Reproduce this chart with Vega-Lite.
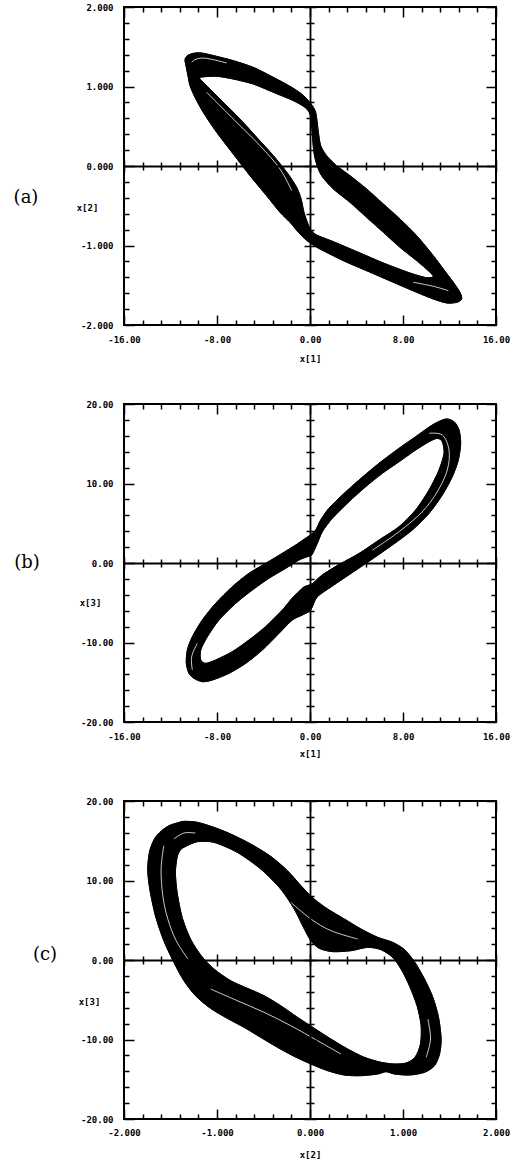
{
"$schema": "https://vega.github.io/schema/vega-lite/v6.json",
"background": "white",
"padding": {"left": 12, "top": 2, "right": 4, "bottom": 0},
"spacing": 79,
"bounds": "flush",
"config": {
  "locale": {"number": {"decimal": ".", "thousands": ",", "grouping": [3], "currency": ["$", ""], "minus": "-"}},
  "view": {"stroke": "black", "strokeWidth": 2},
  "axis": {"grid": false, "domainColor": "black", "domainWidth": 1.8, "tickColor": "black", "tickWidth": 1.5, "labelColor": "black", "titleColor": "black", "labelFont": "DejaVu Sans Mono", "labelFontWeight": "bold", "labelFontSize": 9, "titleFont": "DejaVu Sans Mono", "titleFontWeight": "bold", "titleFontSize": 9, "labelFlush": false, "labelOverlap": false}
},
"datasets": {
"a": [
{"s":"o","x1":-10.75,"x2":1.333},{"s":"o","x1":-10.55,"x2":1.388},{"s":"o","x1":-10.04,"x2":1.417},{"s":"o","x1":-9.32,"x2":1.421},{"s":"o","x1":-8.03,"x2":1.379},{"s":"o","x1":-6.6,"x2":1.325},{"s":"o","x1":-4.88,"x2":1.241},{"s":"o","x1":-3.15,"x2":1.115},{"s":"o","x1":-1.72,"x2":1.002},{"s":"o","x1":-0.72,"x2":0.906},{"s":"o","x1":-0.14,"x2":0.822},{"s":"o","x1":0.29,"x2":0.738},{"s":"o","x1":0.52,"x2":0.654},{"s":"o","x1":0.72,"x2":0.424},{"s":"o","x1":0.92,"x2":0.256},{"s":"o","x1":1.43,"x2":0.13},{"s":"o","x1":2.29,"x2":0.004},{"s":"o","x1":3.44,"x2":-0.122},{"s":"o","x1":4.87,"x2":-0.289},{"s":"o","x1":6.31,"x2":-0.478},{"s":"o","x1":7.74,"x2":-0.667},{"s":"o","x1":9.18,"x2":-0.877},{"s":"o","x1":10.61,"x2":-1.128},{"s":"o","x1":11.47,"x2":-1.296},{"s":"o","x1":12.33,"x2":-1.463},{"s":"o","x1":12.9,"x2":-1.589},{"s":"o","x1":13.05,"x2":-1.673},{"s":"o","x1":12.62,"x2":-1.715},{"s":"o","x1":11.76,"x2":-1.723},{"s":"o","x1":10.61,"x2":-1.673},{"s":"o","x1":9.18,"x2":-1.589},{"s":"o","x1":7.17,"x2":-1.463},{"s":"o","x1":4.87,"x2":-1.317},{"s":"o","x1":2.87,"x2":-1.191},{"s":"o","x1":0.86,"x2":-1.044},{"s":"o","x1":0.14,"x2":-0.981},{"s":"o","x1":-0.43,"x2":-0.918},{"s":"o","x1":-1.0,"x2":-0.834},{"s":"o","x1":-1.72,"x2":-0.708},{"s":"o","x1":-2.58,"x2":-0.582},{"s":"o","x1":-3.73,"x2":-0.374},{"s":"o","x1":-5.16,"x2":-0.122},{"s":"o","x1":-6.6,"x2":0.151},{"s":"o","x1":-8.03,"x2":0.424},{"s":"o","x1":-9.18,"x2":0.675},{"s":"o","x1":-9.89,"x2":0.864},{"s":"o","x1":-10.32,"x2":1.01},{"s":"o","x1":-10.47,"x2":1.115},{"s":"o","x1":-10.61,"x2":1.22},
{"s":"i","x1":-9.46,"x2":1.115},{"s":"i","x1":-8.03,"x2":1.128},{"s":"i","x1":-6.6,"x2":1.094},{"s":"i","x1":-4.88,"x2":1.031},{"s":"i","x1":-3.15,"x2":0.927},{"s":"i","x1":-1.43,"x2":0.822},{"s":"i","x1":-0.43,"x2":0.738},{"s":"i","x1":0.0,"x2":0.654},{"s":"i","x1":0.14,"x2":0.507},{"s":"i","x1":0.23,"x2":0.34},{"s":"i","x1":0.34,"x2":0.172},{"s":"i","x1":0.57,"x2":0.025},{"s":"i","x1":1.0,"x2":-0.122},{"s":"i","x1":2.01,"x2":-0.289},{"s":"i","x1":3.44,"x2":-0.457},{"s":"i","x1":4.87,"x2":-0.646},{"s":"i","x1":6.31,"x2":-0.834},{"s":"i","x1":7.74,"x2":-1.023},{"s":"i","x1":9.18,"x2":-1.191},{"s":"i","x1":10.18,"x2":-1.317},{"s":"i","x1":10.61,"x2":-1.388},{"s":"i","x1":10.04,"x2":-1.405},{"s":"i","x1":8.6,"x2":-1.346},{"s":"i","x1":6.31,"x2":-1.22},{"s":"i","x1":4.3,"x2":-1.094},{"s":"i","x1":2.01,"x2":-0.952},{"s":"i","x1":0.57,"x2":-0.868},{"s":"i","x1":0.06,"x2":-0.801},{"s":"i","x1":-0.23,"x2":-0.708},{"s":"i","x1":-0.52,"x2":-0.582},{"s":"i","x1":-0.77,"x2":-0.415},{"s":"i","x1":-1.15,"x2":-0.268},{"s":"i","x1":-1.95,"x2":-0.088},{"s":"i","x1":-3.15,"x2":0.13},{"s":"i","x1":-4.59,"x2":0.361},{"s":"i","x1":-6.02,"x2":0.591},{"s":"i","x1":-7.46,"x2":0.801},{"s":"i","x1":-8.6,"x2":0.969},{"s":"i","x1":-9.23,"x2":1.06},
{"s":"s1","x1":-8.89,"x2":0.927},{"s":"s1","x1":-6.6,"x2":0.591},{"s":"s1","x1":-4.3,"x2":0.256},{"s":"s1","x1":-2.58,"x2":-0.038},{"s":"s1","x1":-1.58,"x2":-0.31},
{"s":"s2","x1":-10.18,"x2":1.304},{"s":"s2","x1":-9.75,"x2":1.346},{"s":"s2","x1":-8.89,"x2":1.354},{"s":"s2","x1":-7.17,"x2":1.296},
{"s":"s3","x1":8.89,"x2":-1.463},{"s":"s3","x1":10.61,"x2":-1.513},{"s":"s3","x1":11.9,"x2":-1.568}
],
"b": [
{"s":"o","x1":-0.09,"x3":3.4},{"s":"o","x1":0.49,"x3":4.15},{"s":"o","x1":0.92,"x3":5.41},{"s":"o","x1":1.63,"x3":6.88},{"s":"o","x1":2.78,"x3":8.55},{"s":"o","x1":4.22,"x3":10.44},{"s":"o","x1":5.94,"x3":12.54},{"s":"o","x1":7.66,"x3":14.43},{"s":"o","x1":9.09,"x3":15.89},{"s":"o","x1":10.52,"x3":17.36},{"s":"o","x1":11.67,"x3":18.11},{"s":"o","x1":12.39,"x3":17.77},{"s":"o","x1":12.82,"x3":16.73},{"s":"o","x1":12.96,"x3":15.06},{"s":"o","x1":12.76,"x3":12.96},{"s":"o","x1":12.24,"x3":10.86},{"s":"o","x1":11.38,"x3":8.55},{"s":"o","x1":10.24,"x3":6.25},{"s":"o","x1":8.8,"x3":4.15},{"s":"o","x1":7.08,"x3":2.26},{"s":"o","x1":5.36,"x3":0.5},{"s":"o","x1":3.64,"x3":-1.2},{"s":"o","x1":1.92,"x3":-2.9},{"s":"o","x1":0.6,"x3":-4.3},{"s":"o","x1":0.06,"x3":-5.91},{"s":"o","x1":-0.66,"x3":-6.54},{"s":"o","x1":-1.52,"x3":-7.17},{"s":"o","x1":-2.67,"x3":-8.85},{"s":"o","x1":-4.1,"x3":-10.94},{"s":"o","x1":-5.53,"x3":-12.62},{"s":"o","x1":-6.97,"x3":-13.88},{"s":"o","x1":-8.4,"x3":-14.72},{"s":"o","x1":-9.26,"x3":-14.93},{"s":"o","x1":-9.98,"x3":-14.51},{"s":"o","x1":-10.41,"x3":-13.88},{"s":"o","x1":-10.64,"x3":-12.62},{"s":"o","x1":-10.55,"x3":-10.94},{"s":"o","x1":-10.12,"x3":-9.27},{"s":"o","x1":-9.26,"x3":-7.17},{"s":"o","x1":-8.11,"x3":-5.07},{"s":"o","x1":-6.68,"x3":-2.98},{"s":"o","x1":-5.25,"x3":-1.3},{"s":"o","x1":-3.81,"x3":-0.04},{"s":"o","x1":-2.38,"x3":1.22},{"s":"o","x1":-1.23,"x3":2.26},{"s":"o","x1":-0.52,"x3":2.98},
{"s":"i","x1":0.15,"x3":1.01},{"s":"i","x1":0.63,"x3":2.48},{"s":"i","x1":1.06,"x3":3.94},{"s":"i","x1":1.92,"x3":5.62},{"s":"i","x1":3.35,"x3":7.71},{"s":"i","x1":4.79,"x3":9.6},{"s":"i","x1":6.22,"x3":11.28},{"s":"i","x1":7.66,"x3":12.74},{"s":"i","x1":9.09,"x3":14.21},{"s":"i","x1":10.24,"x3":15.26},{"s":"i","x1":10.95,"x3":15.68},{"s":"i","x1":11.38,"x3":15.26},{"s":"i","x1":11.53,"x3":13.8},{"s":"i","x1":11.1,"x3":11.7},{"s":"i","x1":10.24,"x3":9.18},{"s":"i","x1":9.09,"x3":6.67},{"s":"i","x1":7.66,"x3":4.57},{"s":"i","x1":5.94,"x3":2.89},{"s":"i","x1":4.22,"x3":1.2},{"s":"i","x1":2.49,"x3":-0.2},{"s":"i","x1":1.06,"x3":-1.5},{"s":"i","x1":0.2,"x3":-2.6},{"s":"i","x1":-0.5,"x3":-3.0},{"s":"i","x1":-0.95,"x3":-3.6},{"s":"i","x1":-1.52,"x3":-4.4},{"s":"i","x1":-2.38,"x3":-5.91},{"s":"i","x1":-3.81,"x3":-7.99},{"s":"i","x1":-5.25,"x3":-9.69},{"s":"i","x1":-6.68,"x3":-11.15},{"s":"i","x1":-8.11,"x3":-12.2},{"s":"i","x1":-8.97,"x3":-12.62},{"s":"i","x1":-9.4,"x3":-12.2},{"s":"i","x1":-9.4,"x3":-10.94},{"s":"i","x1":-8.83,"x3":-9.27},{"s":"i","x1":-7.83,"x3":-7.17},{"s":"i","x1":-6.39,"x3":-5.07},{"s":"i","x1":-4.96,"x3":-3.4},{"s":"i","x1":-3.53,"x3":-1.92},{"s":"i","x1":-2.09,"x3":-0.67},{"s":"i","x1":-0.95,"x3":0.38},{"s":"i","x1":-0.23,"x3":0.79},
{"s":"s1","x1":10.24,"x3":16.31},{"s":"s1","x1":11.38,"x3":16.1},{"s":"s1","x1":11.96,"x3":14.21},{"s":"s1","x1":11.81,"x3":11.7},{"s":"s1","x1":10.95,"x3":8.97},{"s":"s1","x1":9.66,"x3":6.45},{"s":"s1","x1":7.66,"x3":3.94},{"s":"s1","x1":5.36,"x3":1.6},
{"s":"s2","x1":-10.12,"x3":-13.46},{"s":"s2","x1":-10.18,"x3":-11.79},{"s":"s2","x1":-9.69,"x3":-10.1}
],
"c": [
{"s":"o","x2":-1.429,"x3":17.23},{"s":"o","x2":-1.356,"x3":17.44},{"s":"o","x2":-1.213,"x3":17.32},{"s":"o","x2":-1.033,"x3":16.69},{"s":"o","x2":-0.854,"x3":15.85},{"s":"o","x2":-0.638,"x3":14.59},{"s":"o","x2":-0.423,"x3":13.04},{"s":"o","x2":-0.243,"x3":11.24},{"s":"o","x2":-0.081,"x3":9.14},{"s":"o","x2":0.045,"x3":7.67},{"s":"o","x2":0.189,"x3":6.42},{"s":"o","x2":0.369,"x3":5.16},{"s":"o","x2":0.548,"x3":3.9},{"s":"o","x2":0.728,"x3":2.85},{"s":"o","x2":0.889,"x3":2.22},{"s":"o","x2":1.016,"x3":1.3},{"s":"o","x2":1.123,"x3":-0.21},{"s":"o","x2":1.231,"x3":-2.39},{"s":"o","x2":1.321,"x3":-4.7},{"s":"o","x2":1.382,"x3":-7.21},{"s":"o","x2":1.41,"x3":-9.94},{"s":"o","x2":1.393,"x3":-11.82},{"s":"o","x2":1.339,"x3":-13.29},{"s":"o","x2":1.231,"x3":-14.13},{"s":"o","x2":1.069,"x3":-14.47},{"s":"o","x2":0.908,"x3":-14.34},{"s":"o","x2":0.817,"x3":-14.05},{"s":"o","x2":0.728,"x3":-14.34},{"s":"o","x2":0.548,"x3":-14.55},{"s":"o","x2":0.369,"x3":-14.47},{"s":"o","x2":0.189,"x3":-13.92},{"s":"o","x2":0.009,"x3":-13.08},{"s":"o","x2":-0.17,"x3":-12.12},{"s":"o","x2":-0.35,"x3":-10.98},{"s":"o","x2":-0.53,"x3":-9.73},{"s":"o","x2":-0.709,"x3":-8.47},{"s":"o","x2":-0.889,"x3":-7.34},{"s":"o","x2":-1.069,"x3":-6.08},{"s":"o","x2":-1.231,"x3":-4.49},{"s":"o","x2":-1.356,"x3":-2.6},{"s":"o","x2":-1.464,"x3":-0.29},{"s":"o","x2":-1.572,"x3":2.43},{"s":"o","x2":-1.662,"x3":5.57},{"s":"o","x2":-1.723,"x3":8.93},{"s":"o","x2":-1.745,"x3":11.45},{"s":"o","x2":-1.723,"x3":13.75},{"s":"o","x2":-1.662,"x3":15.43},{"s":"o","x2":-1.572,"x3":16.48},{"s":"o","x2":-1.5,"x3":16.98},
{"s":"i","x2":-1.356,"x3":14.17},{"s":"i","x2":-1.213,"x3":14.88},{"s":"i","x2":-1.033,"x3":14.8},{"s":"i","x2":-0.782,"x3":13.54},{"s":"i","x2":-0.53,"x3":11.45},{"s":"i","x2":-0.315,"x3":8.93},{"s":"i","x2":-0.17,"x3":6.42},{"s":"i","x2":-0.07,"x3":4.11},{"s":"i","x2":0.009,"x3":2.43},{"s":"i","x2":0.099,"x3":1.47},{"s":"i","x2":0.243,"x3":1.05},{"s":"i","x2":0.44,"x3":1.17},{"s":"i","x2":0.62,"x3":1.59},{"s":"i","x2":0.763,"x3":1.3},{"s":"i","x2":0.889,"x3":0.33},{"s":"i","x2":0.979,"x3":-1.13},{"s":"i","x2":1.069,"x3":-3.23},{"s":"i","x2":1.151,"x3":-5.75},{"s":"i","x2":1.195,"x3":-8.26},{"s":"i","x2":1.188,"x3":-10.57},{"s":"i","x2":1.13,"x3":-12.24},{"s":"i","x2":1.033,"x3":-12.96},{"s":"i","x2":0.908,"x3":-13.08},{"s":"i","x2":0.763,"x3":-12.87},{"s":"i","x2":0.584,"x3":-12.24},{"s":"i","x2":0.404,"x3":-11.19},{"s":"i","x2":0.225,"x3":-9.94},{"s":"i","x2":0.045,"x3":-8.59},{"s":"i","x2":-0.135,"x3":-7.21},{"s":"i","x2":-0.315,"x3":-5.75},{"s":"i","x2":-0.494,"x3":-4.49},{"s":"i","x2":-0.674,"x3":-3.56},{"s":"i","x2":-0.854,"x3":-2.6},{"s":"i","x2":-1.033,"x3":-1.13},{"s":"i","x2":-1.17,"x3":0.54},{"s":"i","x2":-1.285,"x3":2.64},{"s":"i","x2":-1.375,"x3":5.37},{"s":"i","x2":-1.429,"x3":8.51},{"s":"i","x2":-1.447,"x3":11.03},{"s":"i","x2":-1.429,"x3":12.92},{"s":"i","x2":-1.4,"x3":13.75},
{"s":"s1","x2":-1.572,"x3":14.38},{"s":"s1","x2":-1.601,"x3":11.45},{"s":"s1","x2":-1.583,"x3":8.09},{"s":"s1","x2":-1.529,"x3":5.16},{"s":"s1","x2":-1.439,"x3":2.43},{"s":"s1","x2":-1.313,"x3":0.13},
{"s":"s2","x2":-1.069,"x3":-3.65},{"s":"s2","x2":-0.782,"x3":-5.12},{"s":"s2","x2":-0.494,"x3":-6.58},{"s":"s2","x2":-0.207,"x3":-8.26},{"s":"s2","x2":0.081,"x3":-10.15},{"s":"s2","x2":0.332,"x3":-11.82},
{"s":"s3","x2":1.267,"x3":-7.42},{"s":"s3","x2":1.296,"x3":-9.94},{"s":"s3","x2":1.249,"x3":-12.24},
{"s":"s4","x2":-1.464,"x3":15.22},{"s":"s4","x2":-1.356,"x3":15.97},{"s":"s4","x2":-1.231,"x3":15.97},
{"s":"s5","x2":-0.207,"x3":7.25},{"s":"s5","x2":0.009,"x3":5.16},{"s":"s5","x2":0.225,"x3":3.69},{"s":"s5","x2":0.512,"x3":2.64}
]
},
"vconcat": [
{
 "width": 372, "height": 318,
 "data": {"name": "a"},
 "layer": [
  {"transform": [{"filter": "datum.s === 'o'"}],
   "mark": {"type": "line", "fill": "black", "stroke": "black", "strokeWidth": 1, "interpolate": "cardinal-closed", "tension": 0.2},
   "encoding": {
    "x": {"field": "x1", "type": "quantitative", "scale": {"domain": [-16, 16], "nice": false, "zero": false}, "axis": {"orient": "bottom", "values": [-16, -8, 0, 8, 16], "format": ".2f", "ticks": false, "domain": false, "labelPadding": 10, "labelBaseline": "top", "title": "x[1]", "titleY": 33, "titleBaseline": "middle"}},
    "y": {"field": "x2", "type": "quantitative", "scale": {"domain": [-2, 2], "nice": false, "zero": false}, "axis": {"orient": "left", "values": [-2, -1, 0, 1, 2], "format": ".3f", "ticks": false, "domain": false, "labelPadding": 11, "title": "x[2]", "titleAngle": 0, "titleX": -37, "titleY": 200, "titleAlign": "center", "titleBaseline": "middle"}},
    "order": {"value": null}}},
  {"transform": [{"filter": "datum.s === 'i'"}],
   "mark": {"type": "line", "fill": "white", "stroke": "black", "strokeWidth": 1, "interpolate": "cardinal-closed", "tension": 0.2},
   "encoding": {
    "x": {"field": "x1", "type": "quantitative", "axis": {"orient": "top", "offset": -318, "values": [-16, -14.4, -12.8, -11.2, -9.6, -8, -6.4, -4.8, -3.2, -1.6, 0, 1.6, 3.2, 4.8, 6.4, 8, 9.6, 11.2, 12.8, 14.4, 16], "labels": false, "domain": false, "title": null, "tickSize": {"condition": {"test": "abs(datum.value % 8) < 0.01", "value": 10}, "value": 5}}},
    "y": {"field": "x2", "type": "quantitative", "axis": {"orient": "right", "offset": -372, "values": [-2, -1.8, -1.6, -1.4, -1.2, -1, -0.8, -0.6, -0.4, -0.2, 0, 0.2, 0.4, 0.6, 0.8, 1, 1.2, 1.4, 1.6, 1.8, 2], "labels": false, "domain": false, "tickSize": {"condition": {"test": "abs(datum.value % 1) < 0.01", "value": 10}, "value": 5}, "title": "(a)", "titleAngle": 0, "titleX": -98.5, "titleY": 190, "titleAlign": "center", "titleBaseline": "middle", "titleFont": "DejaVu Serif", "titleFontSize": 18, "titleFontWeight": "normal"}},
    "order": {"value": null}}},
  {"transform": [{"filter": "datum.s !== 'o' && datum.s !== 'i'"}],
   "mark": {"type": "line", "stroke": "white", "strokeWidth": 0.8, "interpolate": "cardinal"},
   "encoding": {
    "x": {"field": "x1", "type": "quantitative", "axis": {"orient": "bottom", "offset": -318, "values": [-16, -14.4, -12.8, -11.2, -9.6, -8, -6.4, -4.8, -3.2, -1.6, 0, 1.6, 3.2, 4.8, 6.4, 8, 9.6, 11.2, 12.8, 14.4, 16], "labels": false, "domain": false, "title": null, "tickSize": {"condition": {"test": "abs(datum.value % 8) < 0.01", "value": 10}, "value": 5}}},
    "y": {"field": "x2", "type": "quantitative", "axis": {"orient": "left", "offset": -372, "values": [-2, -1.8, -1.6, -1.4, -1.2, -1, -0.8, -0.6, -0.4, -0.2, 0, 0.2, 0.4, 0.6, 0.8, 1, 1.2, 1.4, 1.6, 1.8, 2], "labels": false, "domain": false, "title": null, "tickSize": {"condition": {"test": "abs(datum.value % 1) < 0.01", "value": 10}, "value": 5}}},
    "detail": {"field": "s"},
    "order": {"value": null}}},
  {"transform": [{"filter": "datum.s === 'i'"}],
   "mark": {"type": "line", "stroke": "black", "strokeWidth": 0.8, "interpolate": "cardinal-closed", "tension": 0.2},
   "encoding": {
    "x": {"field": "x1", "type": "quantitative", "axis": {"orient": "top", "offset": -159, "zindex": 1, "values": [-16, -14.4, -12.8, -11.2, -9.6, -8, -6.4, -4.8, -3.2, -1.6, 0, 1.6, 3.2, 4.8, 6.4, 8, 9.6, 11.2, 12.8, 14.4, 16], "labels": false, "domain": true, "title": null, "tickSize": {"condition": {"test": "abs(datum.value % 8) < 0.01", "value": 6}, "value": 4}}},
    "y": {"field": "x2", "type": "quantitative", "axis": {"orient": "right", "offset": -186, "zindex": 1, "values": [-2, -1.8, -1.6, -1.4, -1.2, -1, -0.8, -0.6, -0.4, -0.2, 0, 0.2, 0.4, 0.6, 0.8, 1, 1.2, 1.4, 1.6, 1.8, 2], "labels": false, "domain": true, "title": null, "tickSize": {"condition": {"test": "abs(datum.value % 1) < 0.01", "value": 6}, "value": 4}}},
    "order": {"value": null}}},
  {"transform": [{"filter": "datum.s === 'o'"}],
   "mark": {"type": "line", "stroke": "black", "strokeWidth": 0.8, "interpolate": "cardinal-closed", "tension": 0.2},
   "encoding": {
    "x": {"field": "x1", "type": "quantitative", "axis": {"orient": "bottom", "offset": -159, "zindex": 1, "values": [-16, -14.4, -12.8, -11.2, -9.6, -8, -6.4, -4.8, -3.2, -1.6, 0, 1.6, 3.2, 4.8, 6.4, 8, 9.6, 11.2, 12.8, 14.4, 16], "labels": false, "domain": false, "title": null, "tickSize": {"condition": {"test": "abs(datum.value % 8) < 0.01", "value": 6}, "value": 4}}},
    "y": {"field": "x2", "type": "quantitative", "axis": {"orient": "left", "offset": -186, "zindex": 1, "values": [-2, -1.8, -1.6, -1.4, -1.2, -1, -0.8, -0.6, -0.4, -0.2, 0, 0.2, 0.4, 0.6, 0.8, 1, 1.2, 1.4, 1.6, 1.8, 2], "labels": false, "domain": false, "title": null, "tickSize": {"condition": {"test": "abs(datum.value % 1) < 0.01", "value": 6}, "value": 4}}},
    "order": {"value": null}}}
 ],
 "resolve": {"axis": {"x": "independent", "y": "independent"}}
},
{
 "width": 372, "height": 318,
 "data": {"name": "b"},
 "layer": [
  {"transform": [{"filter": "datum.s === 'o'"}],
   "mark": {"type": "line", "fill": "black", "stroke": "black", "strokeWidth": 1, "interpolate": "cardinal-closed", "tension": 0.2},
   "encoding": {
    "x": {"field": "x1", "type": "quantitative", "scale": {"domain": [-16, 16], "nice": false, "zero": false}, "axis": {"orient": "bottom", "values": [-16, -8, 0, 8, 16], "format": ".2f", "ticks": false, "domain": false, "labelPadding": 10, "labelBaseline": "top", "title": "x[1]", "titleY": 31, "titleBaseline": "middle"}},
    "y": {"field": "x3", "type": "quantitative", "scale": {"domain": [-20, 20], "nice": false, "zero": false}, "axis": {"orient": "left", "values": [-20, -10, 0, 10, 20], "format": ".2f", "ticks": false, "domain": false, "labelPadding": 11, "title": "x[3]", "titleAngle": 0, "titleX": -34, "titleY": 198, "titleAlign": "center", "titleBaseline": "middle"}},
    "order": {"value": null}}},
  {"transform": [{"filter": "datum.s === 'i'"}],
   "mark": {"type": "line", "fill": "white", "stroke": "black", "strokeWidth": 1, "interpolate": "cardinal-closed", "tension": 0.2},
   "encoding": {
    "x": {"field": "x1", "type": "quantitative", "axis": {"orient": "top", "offset": -318, "values": [-16, -14.4, -12.8, -11.2, -9.6, -8, -6.4, -4.8, -3.2, -1.6, 0, 1.6, 3.2, 4.8, 6.4, 8, 9.6, 11.2, 12.8, 14.4, 16], "labels": false, "domain": false, "title": null, "tickSize": {"condition": {"test": "abs(datum.value % 8) < 0.01", "value": 10}, "value": 5}}},
    "y": {"field": "x3", "type": "quantitative", "axis": {"orient": "right", "offset": -372, "values": [-20, -18, -16, -14, -12, -10, -8, -6, -4, -2, 0, 2, 4, 6, 8, 10, 12, 14, 16, 18, 20], "labels": false, "domain": false, "tickSize": {"condition": {"test": "abs(datum.value % 10) < 0.01", "value": 10}, "value": 5}, "title": "(b)", "titleAngle": 0, "titleX": -97.5, "titleY": 158, "titleAlign": "center", "titleBaseline": "middle", "titleFont": "DejaVu Serif", "titleFontSize": 18, "titleFontWeight": "normal"}},
    "order": {"value": null}}},
  {"transform": [{"filter": "datum.s !== 'o' && datum.s !== 'i'"}],
   "mark": {"type": "line", "stroke": "white", "strokeWidth": 0.8, "interpolate": "cardinal"},
   "encoding": {
    "x": {"field": "x1", "type": "quantitative", "axis": {"orient": "bottom", "offset": -318, "values": [-16, -14.4, -12.8, -11.2, -9.6, -8, -6.4, -4.8, -3.2, -1.6, 0, 1.6, 3.2, 4.8, 6.4, 8, 9.6, 11.2, 12.8, 14.4, 16], "labels": false, "domain": false, "title": null, "tickSize": {"condition": {"test": "abs(datum.value % 8) < 0.01", "value": 10}, "value": 5}}},
    "y": {"field": "x3", "type": "quantitative", "axis": {"orient": "left", "offset": -372, "values": [-20, -18, -16, -14, -12, -10, -8, -6, -4, -2, 0, 2, 4, 6, 8, 10, 12, 14, 16, 18, 20], "labels": false, "domain": false, "title": null, "tickSize": {"condition": {"test": "abs(datum.value % 10) < 0.01", "value": 10}, "value": 5}}},
    "detail": {"field": "s"},
    "order": {"value": null}}},
  {"transform": [{"filter": "datum.s === 'i'"}],
   "mark": {"type": "line", "stroke": "black", "strokeWidth": 0.8, "interpolate": "cardinal-closed", "tension": 0.2},
   "encoding": {
    "x": {"field": "x1", "type": "quantitative", "axis": {"orient": "top", "offset": -159, "zindex": 1, "values": [-16, -14.4, -12.8, -11.2, -9.6, -8, -6.4, -4.8, -3.2, -1.6, 0, 1.6, 3.2, 4.8, 6.4, 8, 9.6, 11.2, 12.8, 14.4, 16], "labels": false, "domain": true, "title": null, "tickSize": {"condition": {"test": "abs(datum.value % 8) < 0.01", "value": 6}, "value": 4}}},
    "y": {"field": "x3", "type": "quantitative", "axis": {"orient": "right", "offset": -186, "zindex": 1, "values": [-20, -18, -16, -14, -12, -10, -8, -6, -4, -2, 0, 2, 4, 6, 8, 10, 12, 14, 16, 18, 20], "labels": false, "domain": true, "title": null, "tickSize": {"condition": {"test": "abs(datum.value % 10) < 0.01", "value": 6}, "value": 4}}},
    "order": {"value": null}}},
  {"transform": [{"filter": "datum.s === 'o'"}],
   "mark": {"type": "line", "stroke": "black", "strokeWidth": 0.8, "interpolate": "cardinal-closed", "tension": 0.2},
   "encoding": {
    "x": {"field": "x1", "type": "quantitative", "axis": {"orient": "bottom", "offset": -159, "zindex": 1, "values": [-16, -14.4, -12.8, -11.2, -9.6, -8, -6.4, -4.8, -3.2, -1.6, 0, 1.6, 3.2, 4.8, 6.4, 8, 9.6, 11.2, 12.8, 14.4, 16], "labels": false, "domain": false, "title": null, "tickSize": {"condition": {"test": "abs(datum.value % 8) < 0.01", "value": 6}, "value": 4}}},
    "y": {"field": "x3", "type": "quantitative", "axis": {"orient": "left", "offset": -186, "zindex": 1, "values": [-20, -18, -16, -14, -12, -10, -8, -6, -4, -2, 0, 2, 4, 6, 8, 10, 12, 14, 16, 18, 20], "labels": false, "domain": false, "title": null, "tickSize": {"condition": {"test": "abs(datum.value % 10) < 0.01", "value": 6}, "value": 4}}},
    "order": {"value": null}}}
 ],
 "resolve": {"axis": {"x": "independent", "y": "independent"}}
},
{
 "width": 372, "height": 318,
 "data": {"name": "c"},
 "layer": [
  {"transform": [{"filter": "datum.s === 'o'"}],
   "mark": {"type": "line", "fill": "black", "stroke": "black", "strokeWidth": 1, "interpolate": "cardinal-closed", "tension": 0.2},
   "encoding": {
    "x": {"field": "x2", "type": "quantitative", "scale": {"domain": [-2, 2], "nice": false, "zero": false}, "axis": {"orient": "bottom", "values": [-2, -1, 0, 1, 2], "format": ".3f", "ticks": false, "domain": false, "labelPadding": 9, "labelBaseline": "top", "title": "x[2]", "titleY": 35, "titleBaseline": "middle"}},
    "y": {"field": "x3", "type": "quantitative", "scale": {"domain": [-20, 20], "nice": false, "zero": false}, "axis": {"orient": "left", "values": [-20, -10, 0, 10, 20], "format": ".2f", "ticks": false, "domain": false, "labelPadding": 11, "title": "x[3]", "titleAngle": 0, "titleX": -35, "titleY": 200, "titleAlign": "center", "titleBaseline": "middle"}},
    "order": {"value": null}}},
  {"transform": [{"filter": "datum.s === 'i'"}],
   "mark": {"type": "line", "fill": "white", "stroke": "black", "strokeWidth": 1, "interpolate": "cardinal-closed", "tension": 0.2},
   "encoding": {
    "x": {"field": "x2", "type": "quantitative", "axis": {"orient": "top", "offset": -318, "values": [-2, -1.8, -1.6, -1.4, -1.2, -1, -0.8, -0.6, -0.4, -0.2, 0, 0.2, 0.4, 0.6, 0.8, 1, 1.2, 1.4, 1.6, 1.8, 2], "labels": false, "domain": false, "title": null, "tickSize": {"condition": {"test": "abs(datum.value % 1) < 0.01", "value": 10}, "value": 5}}},
    "y": {"field": "x3", "type": "quantitative", "axis": {"orient": "right", "offset": -372, "values": [-20, -18, -16, -14, -12, -10, -8, -6, -4, -2, 0, 2, 4, 6, 8, 10, 12, 14, 16, 18, 20], "labels": false, "domain": false, "tickSize": {"condition": {"test": "abs(datum.value % 10) < 0.01", "value": 10}, "value": 5}, "title": "(c)", "titleAngle": 0, "titleX": -79.5, "titleY": 153, "titleAlign": "center", "titleBaseline": "middle", "titleFont": "DejaVu Serif", "titleFontSize": 18, "titleFontWeight": "normal"}},
    "order": {"value": null}}},
  {"transform": [{"filter": "datum.s !== 'o' && datum.s !== 'i'"}],
   "mark": {"type": "line", "stroke": "white", "strokeWidth": 0.8, "interpolate": "cardinal"},
   "encoding": {
    "x": {"field": "x2", "type": "quantitative", "axis": {"orient": "bottom", "offset": -318, "values": [-2, -1.8, -1.6, -1.4, -1.2, -1, -0.8, -0.6, -0.4, -0.2, 0, 0.2, 0.4, 0.6, 0.8, 1, 1.2, 1.4, 1.6, 1.8, 2], "labels": false, "domain": false, "title": null, "tickSize": {"condition": {"test": "abs(datum.value % 1) < 0.01", "value": 10}, "value": 5}}},
    "y": {"field": "x3", "type": "quantitative", "axis": {"orient": "left", "offset": -372, "values": [-20, -18, -16, -14, -12, -10, -8, -6, -4, -2, 0, 2, 4, 6, 8, 10, 12, 14, 16, 18, 20], "labels": false, "domain": false, "title": null, "tickSize": {"condition": {"test": "abs(datum.value % 10) < 0.01", "value": 10}, "value": 5}}},
    "detail": {"field": "s"},
    "order": {"value": null}}},
  {"transform": [{"filter": "datum.s === 'i'"}],
   "mark": {"type": "line", "stroke": "black", "strokeWidth": 0.8, "interpolate": "cardinal-closed", "tension": 0.2},
   "encoding": {
    "x": {"field": "x2", "type": "quantitative", "axis": {"orient": "top", "offset": -159, "zindex": 1, "values": [-2, -1.8, -1.6, -1.4, -1.2, -1, -0.8, -0.6, -0.4, -0.2, 0, 0.2, 0.4, 0.6, 0.8, 1, 1.2, 1.4, 1.6, 1.8, 2], "labels": false, "domain": true, "title": null, "tickSize": {"condition": {"test": "abs(datum.value % 1) < 0.01", "value": 6}, "value": 4}}},
    "y": {"field": "x3", "type": "quantitative", "axis": {"orient": "right", "offset": -186, "zindex": 1, "values": [-20, -18, -16, -14, -12, -10, -8, -6, -4, -2, 0, 2, 4, 6, 8, 10, 12, 14, 16, 18, 20], "labels": false, "domain": true, "title": null, "tickSize": {"condition": {"test": "abs(datum.value % 10) < 0.01", "value": 6}, "value": 4}}},
    "order": {"value": null}}},
  {"transform": [{"filter": "datum.s === 'o'"}],
   "mark": {"type": "line", "stroke": "black", "strokeWidth": 0.8, "interpolate": "cardinal-closed", "tension": 0.2},
   "encoding": {
    "x": {"field": "x2", "type": "quantitative", "axis": {"orient": "bottom", "offset": -159, "zindex": 1, "values": [-2, -1.8, -1.6, -1.4, -1.2, -1, -0.8, -0.6, -0.4, -0.2, 0, 0.2, 0.4, 0.6, 0.8, 1, 1.2, 1.4, 1.6, 1.8, 2], "labels": false, "domain": false, "title": null, "tickSize": {"condition": {"test": "abs(datum.value % 1) < 0.01", "value": 6}, "value": 4}}},
    "y": {"field": "x3", "type": "quantitative", "axis": {"orient": "left", "offset": -186, "zindex": 1, "values": [-20, -18, -16, -14, -12, -10, -8, -6, -4, -2, 0, 2, 4, 6, 8, 10, 12, 14, 16, 18, 20], "labels": false, "domain": false, "title": null, "tickSize": {"condition": {"test": "abs(datum.value % 10) < 0.01", "value": 6}, "value": 4}}},
    "order": {"value": null}}}
 ],
 "resolve": {"axis": {"x": "independent", "y": "independent"}}
}
]
}
